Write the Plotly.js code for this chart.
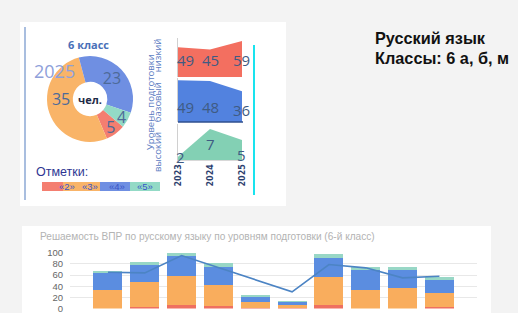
<!DOCTYPE html>
<html>
<head>
<meta charset="utf-8">
<script src="https://cdn.plot.ly/plotly-3.0.1.min.js"></script>
<style>html,body{margin:0;padding:0;background:#f3f3f3;}#chart{width:518px;height:313px;}</style>
</head>
<body>
<div id="chart"></div>
<script>
// ---- Donut (2025, 6 класс) ----
const markLabels = ['«2»', '«3»', '«4»', '«5»'];
const markCounts2025 = [5, 35, 23, 4];
const markColors = ['#f47e70', '#f9b468', '#6f8fe2', '#93dac6'];

// ---- Area panels: levels by year ----
const years = [2023, 2024, 2025];
const levelLow = [49, 45, 59];     // низкий
const levelBase = [49, 48, 36];    // базовый
const levelHigh = [2, 7, 5];       // высокий

// ---- Bottom chart: solvability by level ----
const barIdx = [0, 1, 2, 3, 4, 5, 6, 7, 8, 9];
const bar2 = [0, 3, 6, 4, 1, 1, 6, 0, 0, 3];
const bar3 = [33, 44, 52, 39, 10, 5, 51, 33, 36, 24];
const bar4 = [31, 32, 37, 32, 9, 5, 34, 36, 33, 25];
const bar5 = [3, 5, 5, 6, 5, 2, 6, 6, 6, 5];
const lineVals = [65, 64, 95, 73, 52, 30, 79, 73, 55, 58];
const bottomTitle = 'Решаемость ВПР по русскому языку по уровням подготовки (6-й класс)';

const W = 518, H = 313;
const px = v => v / W;
const py = v => 1 - v / H;

const traces = [];
traces.push({
  type: 'pie', labels: markLabels, values: markCounts2025, sort: false,
  direction: 'clockwise', rotation: 130, hole: 0.4,
  marker: {colors: markColors, line: {width: 0}},
  textinfo: 'value', textposition: 'inside', insidetextorientation: 'horizontal',
  textfont: {family: 'Open Sans, sans-serif', size: 16, color: '#4d6a98'},
  domain: {x: [px(47), px(133)], y: [py(142), py(56)]},
  showlegend: false, hoverinfo: 'label+value'
});
const areaColors = ['#f36f60', '#5282df', '#83d0b4'];
[[levelLow, 'y'], [levelBase, 'y2'], [levelHigh, 'y3']].forEach((d, i) => {
  traces.push({type: 'scatter', x: years, y: d[0], xaxis: 'x', yaxis: d[1], mode: 'lines',
    fill: 'tozeroy', fillcolor: areaColors[i], line: {width: 0, color: areaColors[i]},
    showlegend: false, hoverinfo: 'x+y'});
});
const barColors = ['#ef7060', '#f9ad5d', '#5b8de0', '#98d7c6'];
[bar2, bar3, bar4, bar5].forEach((b, i) => {
  traces.push({type: 'bar', x: barIdx, y: b, xaxis: 'x2', yaxis: 'y4', width: 0.79,
    marker: {color: barColors[i], line: {width: 0}}, showlegend: false});
});
traces.push({type: 'scatter', x: barIdx, y: lineVals, xaxis: 'x2', yaxis: 'y4', mode: 'lines',
  line: {color: '#4c84c4', width: 1.6}, showlegend: false});

const ann = [];
const fnt = (s, c, f, extra) => Object.assign({family: f || 'Open Sans, sans-serif', size: s, color: c}, extra || {});
function A(o) { ann.push(Object.assign({showarrow: false, xref: 'paper', yref: 'paper', xanchor: 'center', yanchor: 'middle'}, o)); }

A({x: px(88), y: py(44), text: '<b>6 класс</b>', font: fnt(11, '#4a70b8')});
A({x: px(54), y: py(71), text: '2025', font: fnt(18, '#8ea0da')});
A({x: px(90), y: py(99), text: '<b>чел.</b>', font: fnt(11, '#1f2b47')});
A({x: px(34), y: py(172), xanchor: 'left', text: 'Отметки:', font: fnt(12.5, '#2e3592', 'Liberation Sans, sans-serif')});
const legX = [67, 90, 117, 145];
markLabels.forEach((l, i) => A({x: px(legX[i]), y: py(186.5), text: l, font: fnt(9.5, '#3a55c8', 'Liberation Sans, sans-serif')}));

A({x: px(150), y: py(102), text: 'Уровень подготовки', textangle: -90, font: fnt(9.5, '#5c7cc2')});
A({x: px(158), y: py(106), text: 'высокий    базовый    низкий', textangle: -90, font: fnt(9.5, '#5c7cc2')});

const lblFont = fnt(15, '#3f5b83');
const shiftX = [7, 0, -1];
years.forEach((yr, i) => {
  ann.push({showarrow: false, xref: 'x', yref: 'y', x: yr, y: 28, xanchor: 'center', yanchor: 'middle', xshift: shiftX[i], text: String(levelLow[i]), font: lblFont});
  ann.push({showarrow: false, xref: 'x', yref: 'y2', x: yr, y: 17.5, xanchor: 'center', yanchor: 'middle', xshift: shiftX[i], yshift: i === 2 ? -3 : 0, text: String(levelBase[i]), font: lblFont});
  ann.push({showarrow: false, xref: 'x', yref: 'y3', x: yr, y: levelHigh[i], xanchor: 'center', xshift: i === 0 ? 2 : shiftX[i],
    yanchor: i === 0 ? 'middle' : 'top', yshift: i === 0 ? 0 : -3, text: String(levelHigh[i]), font: lblFont});
});

A({x: px(373), y: py(38), xanchor: 'left', text: '<b>Русский язык</b>', font: fnt(16.3, '#111111', 'Liberation Sans, sans-serif')});
A({x: px(373), y: py(58), xanchor: 'left', text: '<b>Классы: 6 а, б, м</b>', font: fnt(16.3, '#111111', 'Liberation Sans, sans-serif')});
A({x: px(38), y: py(236), xanchor: 'left', text: bottomTitle, font: fnt(10.1, '#b3b3b3', 'Liberation Sans, sans-serif')});

const shapes = [
  {type: 'rect', xref: 'paper', yref: 'paper', x0: px(20), x1: px(286), y0: py(206), y1: py(22), fillcolor: '#ffffff', line: {width: 0}, layer: 'below'},
  {type: 'rect', xref: 'paper', yref: 'paper', x0: px(22), x1: px(491), y0: py(313), y1: py(226), fillcolor: '#ffffff', line: {width: 0}, layer: 'below'},
  {type: 'line', xref: 'paper', yref: 'paper', x0: px(25), x1: px(25), y0: py(200), y1: py(27), line: {color: '#a9bedf', width: 2}},
  {type: 'line', xref: 'paper', yref: 'paper', x0: px(254), x1: px(254), y0: py(195), y1: py(45), line: {color: '#19e3ee', width: 2}},
  {type: 'line', xref: 'paper', yref: 'paper', x0: px(178), x1: px(243), y0: py(122), y1: py(122), line: {color: '#2f4f8f', width: 1.5}}
];
const legSeg = [[42, 63], [63, 100], [100, 130], [130, 160]];
legSeg.forEach((s, i) => shapes.push({type: 'rect', xref: 'paper', yref: 'paper', x0: px(s[0]), x1: px(s[1]), y0: py(191), y1: py(182), fillcolor: markColors[i], line: {width: 0}, layer: 'below'}));

const yBase = {showgrid: false, zeroline: false, showticklabels: false, ticks: '', showline: true, linecolor: '#d0d0d0', linewidth: 1, anchor: 'x', fixedrange: true};

const layout = {
  width: W, height: H, margin: {l: 0, r: 0, t: 0, b: 0},
  paper_bgcolor: '#f3f3f3', plot_bgcolor: 'rgba(0,0,0,0)',
  showlegend: false, barmode: 'stack',
  uniformtext: {mode: 'show', minsize: 15},
  xaxis: {domain: [px(178), px(242)], range: [2023, 2025], anchor: 'y3', tickvals: years, ticktext: years.map(String),
    tickangle: -90, tickfont: fnt(8, '#2c3e6e', 'DejaVu Sans, sans-serif', {weight: 'bold'}), ticks: '', showgrid: false, zeroline: false,
    showline: true, linecolor: '#d8d8d8'},
  yaxis: Object.assign({}, yBase, {domain: [py(77), py(38)], range: [0, 64]}),
  yaxis2: Object.assign({}, yBase, {domain: [py(122), py(78)], range: [0, 51.5]}),
  yaxis3: Object.assign({}, yBase, {domain: [py(160), py(124)], range: [1.4, 7.9]}),
  xaxis2: {domain: [px(70), px(477)], range: [-1.03, 10.02], anchor: 'y4', showticklabels: false, ticks: '', showgrid: false, zeroline: false, showline: false},
  yaxis4: {domain: [py(308.5), py(252.8)], range: [0, 100], anchor: 'x2', tickvals: [0, 20, 40, 60, 80, 100],
    tickfont: fnt(9.5, '#666666', 'Liberation Sans, sans-serif'), ticks: '', ticklabelstandoff: 6, ticklabeloverflow: 'allow',
    showgrid: true, gridcolor: '#e8e8e8', gridwidth: 1, zeroline: false, showline: false},
  annotations: ann, shapes: shapes
};
Plotly.newPlot('chart', traces, layout, {staticPlot: true, displayModeBar: false});
</script>
</body>
</html>
